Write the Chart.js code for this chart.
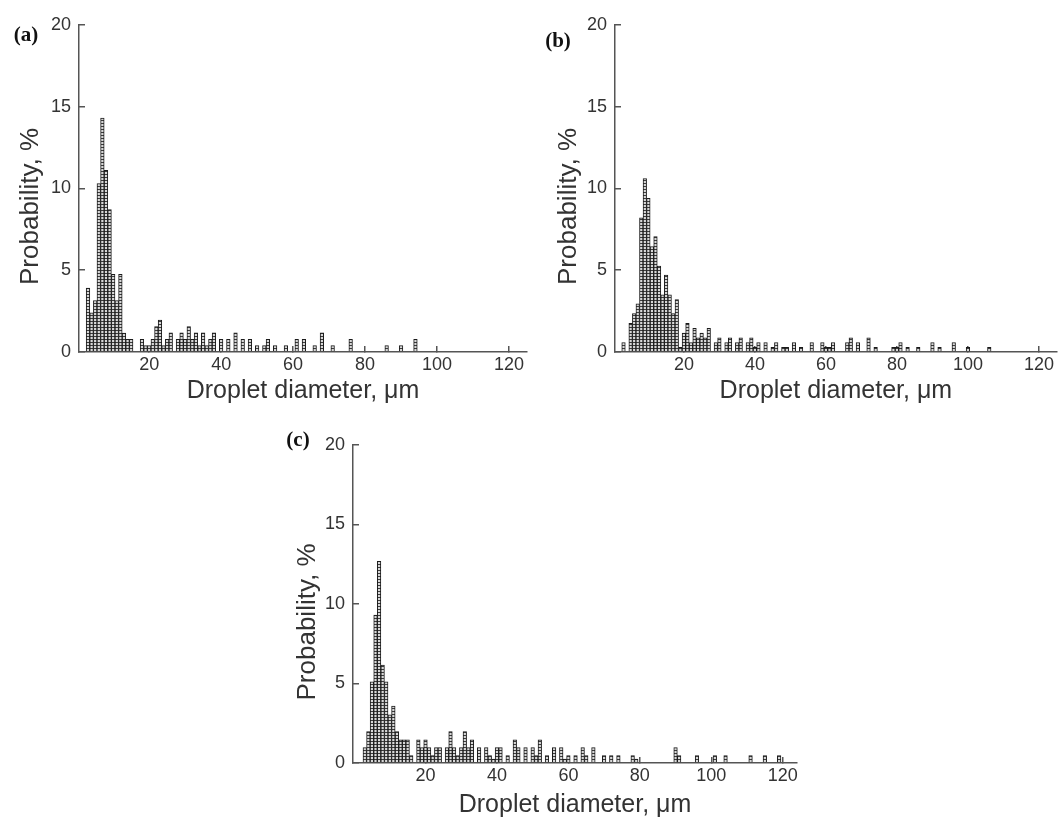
<!DOCTYPE html>
<html>
<head>
<meta charset="utf-8">
<script src="https://cdn.jsdelivr.net/npm/chart.js@4.4.0/dist/chart.umd.min.js"></script>
<style>
    body { margin: 0; background: #fff; width: 1062px; height: 821px; position: relative; overflow: hidden; }
    canvas { position: absolute; }
</style>
</head>
<body>
<canvas id="chartA" width="540" height="410" style="left:0px;top:0px"></canvas>
<canvas id="chartB" width="526" height="410" style="left:536px;top:0px"></canvas>
<canvas id="chartC" width="540" height="401" style="left:270px;top:420px"></canvas>
<script>
// (a) droplet diameter (um) / probability (%)
const diamA = [3,4,5,6,7,8,9,10,11,12,13,14,15,18,19,20,21,22,23,24,25,26,28,29,30,31,32,33,34,35,36,37,38,
    40,42,44,46,48,50,52,53,55,58,61,63,66,68,71,76,86,90,94];
const probA = [3.9,2.4,3.15,10.3,14.3,11.1,8.7,4.75,3.15,4.75,1.15,0.78,0.78,
    0.78,0.39,0.39,0.78,1.56,1.95,0.39,0.78,1.17,
    0.78,1.17,0.78,1.56,0.78,1.17,0.39,1.17,0.39,0.78,1.17,
    0.78,0.78,1.17,0.78,0.78,0.39,0.39,0.78,0.39,0.39,0.78,0.78,0.39,1.17,0.39,0.78,0.39,0.39,0.78];

// (b)
const diamB = [3,5,6,7,8,9,10,11,12,13,14,15,16,17,18,19,20,21,22,23,24,25,26,27,
    29,30,32,33,35,36,38,39,40,41,43,45,46,48,49,51,53,56,59,60,61,62,66,67,69,72,74,79,80,81,83,86,90,92,96,100,106];
const probB = [0.58,1.75,2.35,2.95,8.2,10.6,9.4,6.45,7.05,5.25,3.5,4.7,3.5,2.35,3.2,0.29,1.16,1.75,0.58,1.45,0.87,1.16,0.87,1.45,
    0.58,0.87,0.58,0.87,0.58,0.87,0.58,0.87,0.29,0.58,0.58,0.29,0.58,0.29,0.29,0.58,0.29,0.58,0.58,0.29,0.29,0.58,
    0.58,0.87,0.58,0.87,0.29,0.29,0.29,0.58,0.29,0.29,0.58,0.29,0.58,0.29,0.29];

// (c)
const diamC = [3,4,5,6,7,8,9,10,11,12,13,14,15,16,18,19,20,21,22,23,24,26,27,28,29,30,31,32,33,35,
    37,38,39,40,41,43,45,46,48,50,51,52,54,56,58,59,60,62,64,65,67,70,72,74,78,79,90,91,96,101,104,111,115,119];
const probC = [0.97,1.98,5.1,9.3,12.67,6.16,5.1,3.03,3.58,1.98,1.45,1.45,1.45,0.47,
    1.45,0.97,1.45,0.97,0.47,0.97,0.97,
    0.97,1.98,0.97,0.47,0.97,1.98,0.97,1.45,0.97,
    0.97,0.47,0.25,0.97,0.97,0.47,1.45,0.97,0.97,0.97,0.47,1.45,0.47,0.97,0.97,0.25,0.47,0.47,0.97,0.47,0.97,
    0.47,0.47,0.47,0.47,0.25,0.97,0.47,0.47,0.47,0.47,0.47,0.47,0.47];

const yTicks = [0, 5, 10, 15, 20];
const xTicks = [20, 40, 60, 80, 100, 120];

const fontFamily = '"Liberation Sans", Arial, sans-serif';

// ladder-like hatch fill like the printed bars
const hatchCanvas = document.createElement('canvas');
hatchCanvas.width = 3;
hatchCanvas.height = 3;
const hctx = hatchCanvas.getContext('2d');
hctx.fillStyle = '#d8d8d8';
hctx.fillRect(0, 0, 3, 3);
hctx.fillStyle = '#3c3c3c';
hctx.fillRect(0, 0, 3, 1);
const hatch = hctx.createPattern(hatchCanvas, 'repeat');

// "(a)", "(b)", "(c)" tags
const panelLabel = {
    id: 'panelLabel',
    afterDraw(chart, args, opts) {
        const ctx = chart.ctx;
        ctx.save();
        ctx.font = 'bold 21px "Liberation Serif", "Times New Roman", serif';
        ctx.fillStyle = '#111';
        ctx.textAlign = 'center';
        ctx.textBaseline = 'middle';
        ctx.fillText(opts.text, opts.x, opts.y);
        ctx.restore();
    }
};

function makeChart(id, diam, prob, xMin, xMax, pad, yAxisWidth, xAxisHeight, tag) {
    return new Chart(document.getElementById(id), {
        type: 'bar',
        data: {
            datasets: [{
                data: diam.map((d, i) => ({x: d, y: prob[i]})),
                backgroundColor: hatch,
                borderColor: '#1a1a1a',
                borderWidth: 1,
                categoryPercentage: 1,
                barPercentage: 1
            }]
        },
        options: {
            responsive: false,
            animation: false,
            layout: { padding: pad },
            plugins: {
                legend: { display: false },
                tooltip: { enabled: false },
                panelLabel: tag
            },
            scales: {
                x: {
                    type: 'linear',
                    min: xMin,
                    max: xMax,
                    offset: false,
                    afterBuildTicks: s => { s.ticks = xTicks.map(v => ({value: v})); },
                    afterFit: s => { s.height = xAxisHeight; },
                    ticks: { padding: 8, color: '#333', maxRotation: 0, font: { family: fontFamily, size: 18 } },
                    grid: { offset: false, drawOnChartArea: false, tickLength: -6, color: '#555', lineWidth: 1.5 },
                    border: { color: '#555', width: 1.5 },
                    title: {
                        display: true,
                        text: 'Droplet diameter, μm',
                        color: '#333',
                        padding: 0,
                        font: { family: fontFamily, size: 25 }
                    }
                },
                y: {
                    min: 0,
                    max: 20,
                    afterBuildTicks: s => { s.ticks = yTicks.map(v => ({value: v})); },
                    afterFit: s => { s.width = yAxisWidth; },
                    ticks: { padding: 14, color: '#333', font: { family: fontFamily, size: 18 } },
                    grid: { drawOnChartArea: false, tickLength: -6, color: '#555', lineWidth: 1.5 },
                    border: { color: '#555', width: 1.5 },
                    title: {
                        display: true,
                        // trailing spaces nudge the rotated title a bit lower, as in the figure
                        text: 'Probability, %     ',
                        color: '#333',
                        padding: { top: 3, bottom: 0 },
                        font: { family: fontFamily, size: 26 }
                    }
                }
            }
        },
        plugins: [panelLabel]
    });
}

const chartA = makeChart('chartA', diamA, probA, 0.5, 125, {top: 20, left: 12, right: 13, bottom: 4}, 67, 54, {text: '(a)', x: 26, y: 36});
const chartB = makeChart('chartB', diamB, probB, 0.6, 125, {top: 20, left: 14, right: 0, bottom: 4}, 65, 54, {text: '(b)', x: 22, y: 42});
const chartC = makeChart('chartC', diamC, probC, -0.3, 124, {top: 14, left: 19, right: 13, bottom: 1}, 64, 57, {text: '(c)', x: 28, y: 21});
</script>
</body>
</html>
